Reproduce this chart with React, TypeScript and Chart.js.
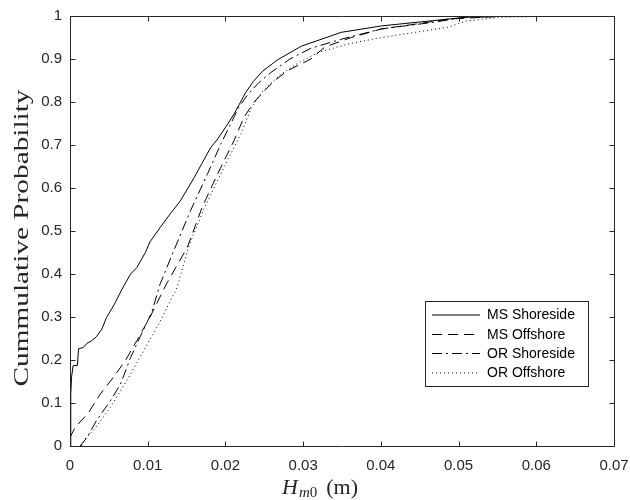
import React, { useEffect, useRef } from "react";
import { Chart, registerables } from "chart.js";

Chart.register(...registerables);

const xTicks = [0, 0.01, 0.02, 0.03, 0.04, 0.05, 0.06, 0.07];
const yTicks = [0, 0.1, 0.2, 0.3, 0.4, 0.5, 0.6, 0.7, 0.8, 0.9, 1];
const seriesNames = ["MS Shoreside", "MS Offshore", "OR Shoreside", "OR Offshore"];

const msShoreX = [0, 0.0001, 0.0002, 0.0004, 0.00095, 0.0011, 0.0017, 0.0022, 0.0028, 0.0034, 0.0041, 0.0047, 0.0056, 0.0067, 0.0078, 0.0086, 0.0097, 0.0103, 0.0116, 0.0129, 0.0142, 0.016, 0.0181, 0.019, 0.0203, 0.0211, 0.0218, 0.0226, 0.0236, 0.0248, 0.0267, 0.0298, 0.0349, 0.0401, 0.0466, 0.0509, 0.0552, 0.0675];
const msShoreY = [0, 0.12, 0.16, 0.187, 0.187, 0.226, 0.229, 0.239, 0.245, 0.254, 0.272, 0.299, 0.326, 0.365, 0.4, 0.415, 0.45, 0.475, 0.508, 0.54, 0.57, 0.625, 0.694, 0.714, 0.749, 0.772, 0.795, 0.822, 0.848, 0.872, 0.898, 0.93, 0.962, 0.977, 0.989, 0.997, 0.999, 1.0];

const msOffX = [0, 0.00065, 0.0024, 0.0039, 0.0056, 0.0071, 0.0086, 0.0103, 0.0125, 0.0151, 0.017, 0.019, 0.0211, 0.0224, 0.0237, 0.0251, 0.0265, 0.028, 0.031, 0.0328, 0.0362, 0.0401, 0.0444, 0.0488, 0.0552, 0.062];
const msOffY = [0.02, 0.043, 0.078, 0.121, 0.16, 0.198, 0.245, 0.3, 0.38, 0.462, 0.555, 0.633, 0.71, 0.765, 0.8, 0.828, 0.852, 0.873, 0.9, 0.928, 0.95, 0.97, 0.981, 0.993, 0.999, 1.0];

const orShoreX = [0.0013, 0.0022, 0.0034, 0.0052, 0.0065, 0.0078, 0.009, 0.0105, 0.0116, 0.0136, 0.0155, 0.0177, 0.0194, 0.0207, 0.0217, 0.0229, 0.0243, 0.0258, 0.0283, 0.031, 0.0349, 0.0401, 0.0466, 0.0509, 0.058];
const orShoreY = [0, 0.02, 0.059, 0.105, 0.144, 0.206, 0.253, 0.31, 0.377, 0.465, 0.547, 0.633, 0.702, 0.75, 0.787, 0.818, 0.845, 0.868, 0.9, 0.925, 0.946, 0.97, 0.985, 0.997, 1.0];

const orOffX = [0.0015, 0.0019, 0.003, 0.0052, 0.0073, 0.009, 0.0116, 0.0138, 0.0153, 0.0172, 0.0198, 0.022, 0.0233, 0.025, 0.0272, 0.0293, 0.0319, 0.0358, 0.0401, 0.0444, 0.0487, 0.0509, 0.0552, 0.064];
const orOffY = [0, 0.016, 0.036, 0.09, 0.152, 0.206, 0.29, 0.37, 0.465, 0.55, 0.648, 0.726, 0.785, 0.83, 0.865, 0.89, 0.915, 0.935, 0.95, 0.962, 0.974, 0.988, 0.997, 1.0];

const dashes: number[][] = [[], [10, 6], [10, 4, 2, 4], [1, 3]];
const AX = "#262626";

function pts(xs: number[], ys: number[]) {
  return xs.map((x, i) => ({ x, y: ys[i] }));
}

const framePlugin = {
  id: "frame",
  afterDraw(chart: any) {
    const { ctx, chartArea: a, scales } = chart;
    const xs = scales.x, ys = scales.y;
    ctx.save();
    ctx.strokeStyle = AX;
    ctx.lineWidth = 1;
    const L = Math.round(a.left) + 0.5, R = Math.round(a.right) + 0.5;
    const T = Math.round(a.top) + 0.5, B = Math.round(a.bottom) + 0.5;
    ctx.beginPath();
    ctx.rect(L, T, R - L, B - T);
    const tl = 5;
    xTicks.forEach((v) => {
      const px = Math.round(xs.getPixelForValue(v)) + 0.5;
      ctx.moveTo(px, B); ctx.lineTo(px, B - tl);
      ctx.moveTo(px, T); ctx.lineTo(px, T + tl);
    });
    yTicks.forEach((v) => {
      const py = Math.round(ys.getPixelForValue(v)) + 0.5;
      ctx.moveTo(L, py); ctx.lineTo(L + tl, py);
      ctx.moveTo(R, py); ctx.lineTo(R - tl, py);
    });
    ctx.stroke();

    // legend
    const lx = 425.5, ly = 301.5, lw = 163, lh = 85;
    ctx.fillStyle = "#ffffff";
    ctx.fillRect(lx, ly, lw, lh);
    ctx.strokeStyle = AX;
    ctx.strokeRect(lx, ly, lw, lh);
    const rows = [315, 334.5, 353.5, 373];
    ctx.font = "14px 'Liberation Sans', Arial, sans-serif";
    ctx.textBaseline = "middle";
    ctx.textAlign = "left";
    seriesNames.forEach((n, i) => {
      ctx.strokeStyle = "#000";
      ctx.setLineDash(dashes[i]);
      ctx.beginPath();
      ctx.moveTo(432, rows[i]);
      ctx.lineTo(480, rows[i]);
      ctx.stroke();
      ctx.setLineDash([]);
      ctx.fillStyle = "#000";
      ctx.fillText(n, 487, rows[i] + 0.5);
    });

    // y title
    ctx.fillStyle = AX;
    ctx.font = "21px 'Liberation Serif', 'Times New Roman', serif";
    const yt = "Cummulative Probability";
    const w = ctx.measureText(yt).width;
    ctx.save();
    ctx.translate(28, 238);
    ctx.rotate(-Math.PI / 2);
    ctx.scale(297 / w, 1);
    ctx.textAlign = "center";
    ctx.textBaseline = "alphabetic";
    ctx.fillText(yt, 0, 0);
    ctx.restore();

    // x title
    ctx.textAlign = "left";
    ctx.textBaseline = "alphabetic";
    let cx = 282;
    const base = 494;
    ctx.font = "italic 22px 'Liberation Serif', serif";
    ctx.fillText("H", cx, base);
    cx += ctx.measureText("H").width + 1;
    ctx.font = "italic 15px 'Liberation Serif', serif";
    ctx.fillText("m", cx, base + 3);
    cx += ctx.measureText("m").width;
    ctx.font = "15px 'Liberation Serif', serif";
    ctx.fillText("0", cx, base + 3);
    cx += ctx.measureText("0").width + 9;
    ctx.font = "22px 'Liberation Serif', serif";
    ctx.fillText("(m)", cx, base);
    ctx.restore();
  },
};

export default function App() {
  const ref = useRef<HTMLCanvasElement>(null);
  useEffect(() => {
    if (!ref.current) return;
    const line = (label: string, data: any[], dash: number[]) => ({
      label,
      data,
      showLine: true,
      borderColor: "#000",
      backgroundColor: "#000",
      borderWidth: 1,
      borderDash: dash,
      pointRadius: 0,
      tension: 0,
      fill: false,
    });
    const chart = new Chart(ref.current, {
      type: "scatter",
      data: {
        datasets: [
          line(seriesNames[0], pts(msShoreX, msShoreY), dashes[0]),
          line(seriesNames[1], pts(msOffX, msOffY), dashes[1]),
          line(seriesNames[2], pts(orShoreX, orShoreY), dashes[2]),
          line(seriesNames[3], pts(orOffX, orOffY), dashes[3]),
        ],
      },
      options: {
        animation: false,
        responsive: false,
        devicePixelRatio: 1,
        layout: { padding: { top: 16, right: 16, left: 0, bottom: 0 } },
        plugins: { legend: { display: false }, tooltip: { enabled: false } },
        scales: {
          x: {
            type: "linear",
            min: 0,
            max: 0.07,
            grid: { display: false, drawTicks: false },
            border: { display: false },
            afterBuildTicks: (s: any) => { s.ticks = xTicks.map((v) => ({ value: v })); },
            afterFit: (s: any) => { s.height = 54; s.paddingLeft = 0; s.paddingRight = 0; },
            ticks: {
              padding: 11,
              color: AX,
              font: { family: "'Liberation Sans', Arial, sans-serif", size: 15 },
              callback: (v: any) => String(Number(v)),
              maxRotation: 0,
            },
          },
          y: {
            type: "linear",
            min: 0,
            max: 1,
            grid: { display: false, drawTicks: false },
            border: { display: false },
            afterBuildTicks: (s: any) => { s.ticks = yTicks.map((v) => ({ value: v })); },
            afterFit: (s: any) => { s.width = 70; s.paddingTop = 0; s.paddingBottom = 0; },
            ticks: {
              padding: 8,
              color: AX,
              font: { family: "'Liberation Sans', Arial, sans-serif", size: 15 },
              callback: (v: any) => String(Number(v)),
            },
          },
        },
      },
      plugins: [framePlugin],
    });
    return () => chart.destroy();
  }, []);
  return (
    <div style={{ position: "absolute", left: 0, top: 0, width: 630, height: 500, background: "#fff" }}>
      <canvas ref={ref} width={630} height={500} />
    </div>
  );
}
